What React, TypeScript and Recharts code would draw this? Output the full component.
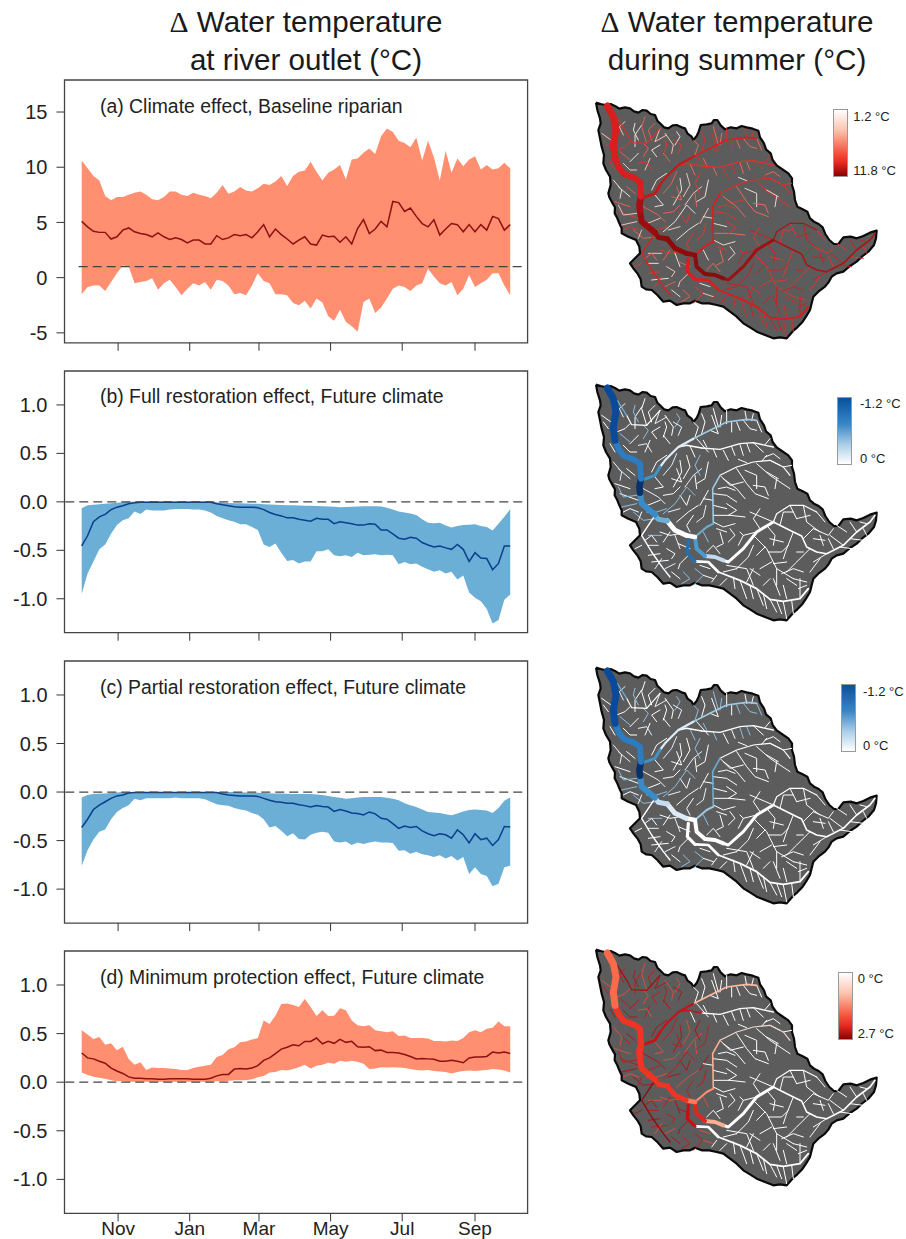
import {
  ComposedChart,
  ScatterChart,
  Scatter,
  Area,
  Line,
  XAxis,
  YAxis,
  ReferenceLine,
  ReferenceArea,
} from "recharts";

// day of water year, Oct 1 = 0
const days = [
  0, 5, 10, 15, 20, 25, 30, 35, 40, 45, 50, 55, 60, 65, 70, 75, 80, 85, 90, 95, 100, 105, 110, 115, 120, 125, 130,
  135, 140, 145, 150, 155, 160, 165, 170, 175, 180, 185, 190, 195, 200, 205, 210, 215, 220, 225, 230, 235, 240, 245,
  250, 255, 260, 265, 270, 275, 280, 285, 290, 295, 300, 305, 310, 315, 320, 325, 330, 335, 340, 345, 350, 355, 360,
  365,
];
const monthTicks = [31, 92, 151, 212, 273, 335];
const monthLabels = ["Nov", "Jan", "Mar", "May", "Jul", "Sep"];

const climateHi = [
  10.6, 9.9, 9.2, 8.8, 7.4, 7.0, 7.3, 7.3, 7.5, 7.7,
  7.8, 7.5, 7.1, 7.0, 7.3, 7.8, 7.8, 7.5, 7.4, 7.7,
  7.5, 7.4, 7.2, 7.7, 8.4, 7.6, 7.8, 8.2, 7.9, 7.8,
  8.1, 8.5, 8.4, 8.7, 9.2, 8.3, 9.2, 9.6, 9.7, 10.5,
  9.6, 8.8, 9.5, 9.8, 10.2, 8.9, 10.7, 10.8, 11.3, 11.7,
  11.2, 12.8, 13.5, 13.2, 12.4, 12.2, 11.8, 12.7, 10.6, 12.4,
  10.9, 8.8, 11.5, 9.5, 10.8, 10.1, 10.7, 11.0, 9.8, 10.2,
  9.8, 9.9, 10.4, 9.9,
];
const climateLo = [
  -1.5, -0.85, -0.7, -0.7, -1.2, -0.4, 0.4, 1.1, 1.0, -0.5,
  -0.4, -0.3, -0.05, -1.1, -0.5, -0.2, -0.85, -1.6, -1.0, -0.5,
  -0.7, -0.4, -1.1, -0.2, -0.3, -0.7, -1.5, -1.4, -1.6, -0.7,
  0.4, -0.3, -0.5, -1.5, -1.5, -1.6, -2.3, -2.5, -2.1, -2.8,
  -1.9, -2.25, -3.5, -3.9, -2.9, -4.0, -4.4, -4.9, -2.2, -1.9,
  -3.2, -2.7, -1.9, -1.0, -0.7, -0.85, -1.2, -0.7, -0.5, 0.8,
  0.1, -0.5, -0.7, -0.4, -1.6, -1.0, 0.25, -0.85, -0.5, -0.2,
  0.4, 0.4, -0.7, -1.6,
];
const climateMean = [
  5.1, 4.6, 4.2, 4.1, 4.1, 3.5, 3.7, 4.3, 4.5, 4.15,
  4.0, 3.9, 3.7, 4.05, 3.7, 3.45, 3.6, 3.45, 3.15, 3.4,
  3.4, 3.05, 3.05, 3.8, 3.45, 3.6, 3.9, 3.8, 3.9, 3.6,
  4.15, 4.8, 3.7, 4.4, 3.9, 3.5, 3.05, 3.4, 3.7, 3.05,
  2.95, 3.85, 3.7, 3.75, 3.2, 3.7, 3.05, 4.45, 5.25, 4.0,
  4.4, 5.1, 4.6, 6.9, 6.8, 6.0, 6.3, 5.55, 4.9, 4.6,
  5.25, 3.85, 4.4, 4.9, 4.8, 4.15, 4.8, 4.15, 4.8, 4.3,
  5.55, 5.35, 4.3, 4.8,
];

const fullHi = [
  -0.065, -0.035, -0.03, -0.025, -0.02, -0.015, -0.01, -0.005, 0, 0,
  0, 0, 0, 0, 0, 0, 0, 0, 0, 0,
  0, 0, -0.005, -0.005, -0.01, -0.012, -0.015, -0.015, -0.018, -0.02,
  -0.02, -0.025, -0.028, -0.03, -0.032, -0.035, -0.035, -0.038, -0.04, -0.04,
  -0.042, -0.045, -0.047, -0.05, -0.055, -0.052, -0.05, -0.047, -0.045, -0.045,
  -0.045, -0.048, -0.06, -0.08, -0.1, -0.11, -0.12, -0.135, -0.18, -0.215,
  -0.22, -0.215, -0.245, -0.265, -0.25, -0.24, -0.235, -0.23, -0.25, -0.26,
  -0.295, -0.225, -0.155, -0.075,
];
const fullLo = [
  -0.95, -0.74, -0.615, -0.49, -0.44, -0.33, -0.24, -0.19, -0.17, -0.1,
  -0.125, -0.08, -0.09, -0.09, -0.09, -0.08, -0.075, -0.075, -0.075, -0.08,
  -0.08, -0.09, -0.11, -0.145, -0.17, -0.19, -0.205, -0.23, -0.23, -0.26,
  -0.29, -0.44, -0.465, -0.43, -0.525, -0.61, -0.6, -0.635, -0.615, -0.615,
  -0.51, -0.51, -0.49, -0.55, -0.56, -0.55, -0.57, -0.525, -0.55, -0.545,
  -0.54, -0.55, -0.545, -0.55, -0.645, -0.62, -0.645, -0.635, -0.67, -0.695,
  -0.72, -0.705, -0.74, -0.72, -0.8, -0.76, -0.935, -0.99, -1.025, -1.105,
  -1.255, -1.22, -1.01, -0.955,
];
const fullMean = [
  -0.455, -0.35, -0.205, -0.155, -0.13, -0.08, -0.055, -0.04, -0.02, -0.01,
  -0.005, -0.005, -0.005, -0.005, -0.005, -0.005, -0.005, -0.005, -0.005, -0.005,
  -0.005, -0.005, -0.005, -0.02, -0.03, -0.04, -0.05, -0.055, -0.055, -0.055,
  -0.06, -0.08, -0.11, -0.13, -0.145, -0.165, -0.165, -0.18, -0.19, -0.2,
  -0.17, -0.18, -0.18, -0.225, -0.205, -0.215, -0.225, -0.24, -0.24, -0.225,
  -0.23, -0.29, -0.29, -0.33, -0.375, -0.385, -0.365, -0.375, -0.42, -0.445,
  -0.465, -0.455, -0.475, -0.49, -0.44, -0.49, -0.615, -0.525, -0.58, -0.585,
  -0.7, -0.635, -0.455, -0.455,
];

const partialHi = [
  -0.055, -0.03, -0.02, -0.018, -0.015, -0.01, -0.005, 0, 0, 0,
  0, 0, 0, 0, 0, 0, 0, 0, 0, 0,
  0, 0, 0, 0, 0, 0, 0, -0.003, -0.005, -0.006,
  -0.008, -0.01, -0.012, -0.015, -0.016, -0.018, -0.02, -0.02, -0.02, -0.02,
  -0.025, -0.03, -0.04, -0.05, -0.06, -0.07, -0.065, -0.055, -0.05, -0.05,
  -0.05, -0.05, -0.06, -0.07, -0.085, -0.115, -0.135, -0.155, -0.18, -0.205,
  -0.21, -0.215, -0.23, -0.24, -0.22, -0.2, -0.185, -0.18, -0.185, -0.19,
  -0.215, -0.165, -0.09, -0.055,
];
const partialLo = [
  -0.76, -0.6, -0.49, -0.41, -0.385, -0.28, -0.205, -0.165, -0.135, -0.07,
  -0.085, -0.065, -0.065, -0.065, -0.065, -0.065, -0.055, -0.065, -0.065, -0.065,
  -0.065, -0.075, -0.1, -0.125, -0.135, -0.14, -0.165, -0.18, -0.19, -0.215,
  -0.235, -0.28, -0.365, -0.35, -0.4, -0.455, -0.425, -0.485, -0.49, -0.44,
  -0.42, -0.41, -0.42, -0.51, -0.52, -0.51, -0.545, -0.52, -0.535, -0.52,
  -0.51, -0.52, -0.52, -0.525, -0.605, -0.6, -0.635, -0.615, -0.64, -0.65,
  -0.67, -0.65, -0.685, -0.66, -0.705, -0.67, -0.845, -0.775, -0.845, -0.865,
  -0.97, -0.945, -0.775, -0.76,
];
const partialMean = [
  -0.365, -0.28, -0.18, -0.135, -0.1, -0.065, -0.04, -0.03, -0.01, -0.005,
  -0.005, -0.005, -0.005, -0.005, -0.005, -0.005, -0.005, -0.005, -0.005, -0.005,
  -0.005, -0.005, -0.005, -0.005, -0.02, -0.03, -0.035, -0.04, -0.04, -0.04,
  -0.045, -0.065, -0.085, -0.1, -0.105, -0.115, -0.115, -0.13, -0.14, -0.155,
  -0.14, -0.15, -0.155, -0.2, -0.18, -0.195, -0.215, -0.22, -0.235, -0.205,
  -0.225, -0.27, -0.28, -0.325, -0.375, -0.35, -0.365, -0.355, -0.4, -0.43,
  -0.45, -0.43, -0.44, -0.475, -0.39, -0.44, -0.525, -0.43, -0.49, -0.475,
  -0.55, -0.49, -0.355, -0.36,
];

const protectHi = [
  0.535, 0.49, 0.445, 0.465, 0.385, 0.4, 0.33, 0.365, 0.24, 0.18,
  0.205, 0.125, 0.15, 0.145, 0.145, 0.14, 0.135, 0.125, 0.125, 0.145,
  0.16, 0.17, 0.18, 0.26, 0.28, 0.34, 0.36, 0.41, 0.42, 0.44,
  0.455, 0.635, 0.6, 0.685, 0.805, 0.81, 0.795, 0.775, 0.855, 0.775,
  0.68, 0.74, 0.68, 0.685, 0.76, 0.74, 0.635, 0.585, 0.575, 0.585,
  0.535, 0.525, 0.515, 0.525, 0.475, 0.48, 0.455, 0.455, 0.455, 0.45,
  0.425, 0.425, 0.42, 0.43, 0.425, 0.455, 0.515, 0.535, 0.515, 0.55,
  0.56, 0.625, 0.575, 0.575,
];
const protectLo = [
  0.1, 0.075, 0.055, 0.045, 0.035, 0.02, 0.01, 0.01, 0.005, 0.005,
  0.005, 0.005, 0.005, 0.005, 0.005, 0.005, 0.005, 0.005, 0.005, 0.005,
  0.005, 0.005, 0.005, 0.01, 0.01, 0.015, 0.02, 0.02, 0.02, 0.03,
  0.05, 0.065, 0.1, 0.105, 0.125, 0.12, 0.135, 0.155, 0.18, 0.14,
  0.17, 0.18, 0.2, 0.19, 0.22, 0.21, 0.22, 0.21, 0.19, 0.135,
  0.14, 0.155, 0.15, 0.155, 0.15, 0.145, 0.135, 0.125, 0.12, 0.125,
  0.115, 0.11, 0.105, 0.09, 0.105, 0.115, 0.12, 0.115, 0.12, 0.125,
  0.135, 0.13, 0.12, 0.1,
];
const protectMean = [
  0.3, 0.25, 0.24, 0.215, 0.195, 0.145, 0.115, 0.09, 0.055, 0.04,
  0.04, 0.035, 0.035, 0.03, 0.03, 0.035, 0.035, 0.035, 0.035, 0.03,
  0.03, 0.03, 0.04, 0.065, 0.08, 0.08, 0.135, 0.14, 0.135, 0.145,
  0.17, 0.225, 0.25, 0.295, 0.34, 0.36, 0.385, 0.375, 0.42, 0.42,
  0.455, 0.395, 0.42, 0.4, 0.44, 0.41, 0.42, 0.365, 0.36, 0.365,
  0.325, 0.33, 0.305, 0.305, 0.3, 0.285, 0.265, 0.24, 0.245, 0.24,
  0.235, 0.215, 0.215, 0.225, 0.215, 0.2, 0.25, 0.26, 0.26, 0.265,
  0.31, 0.3, 0.31, 0.295,
];

type Pt = [number, number];

// basin outline and river network, in map grid units
const basinOutline: Pt[] = [
  [48, 38], [62, 42], [75, 45], [92, 42], [105, 48], [118, 56], [135, 52], [150, 55], [162, 64], [175, 68], [188, 60],
  [200, 62], [212, 72], [225, 75], [232, 92], [240, 100], [252, 112], [265, 115], [278, 106], [290, 105], [305, 112],
  [315, 115], [322, 130], [335, 140], [340, 150], [350, 138], [356, 125], [362, 105], [380, 103], [395, 100], [402, 90],
  [412, 90], [422, 106], [435, 118], [452, 112], [470, 115], [485, 108], [500, 112], [518, 116], [535, 122], [540, 142],
  [552, 160], [558, 178], [572, 190], [578, 210], [590, 226], [610, 240], [625, 250], [636, 265], [636, 285], [642, 305],
  [645, 330], [652, 350], [668, 358], [682, 365], [690, 385], [702, 395], [716, 402], [728, 412], [736, 432], [748, 450],
  [762, 462], [775, 462], [790, 442], [812, 440], [830, 445], [850, 438], [870, 428], [890, 422], [888, 445], [882, 465],
  [865, 485], [848, 498], [830, 515], [810, 528], [790, 545], [770, 550], [755, 560], [745, 578], [735, 590], [715, 605],
  [700, 620], [695, 640], [690, 660], [678, 680], [668, 695], [652, 712], [640, 722], [620, 745], [600, 742], [580, 745],
  [555, 735], [530, 725], [510, 712], [490, 700], [470, 680], [450, 665], [430, 650], [410, 645], [388, 640], [365, 640],
  [345, 632], [330, 640], [310, 640], [290, 645], [270, 632], [250, 635], [232, 615], [215, 600], [198, 598], [185, 590],
  [182, 568], [172, 550], [160, 535], [150, 520], [165, 505], [180, 490], [178, 470], [168, 450], [145, 440], [125, 430],
  [125, 415], [118, 400], [112, 385], [104, 370], [105, 352], [98, 340], [88, 322], [85, 310], [92, 285], [90, 260],
  [78, 240], [70, 220], [72, 195], [65, 170], [60, 145], [55, 120], [62, 100], [60, 85], [52, 60], [48, 38],
];

const mainStem: Record<string, Pt[]> = {
  s1a: [[82, 48], [100, 80], [108, 120], [100, 165], [105, 205]],
  s1b: [[105, 205], [118, 235], [132, 252], [160, 262], [180, 275], [183, 320]],
  s2a: [[183, 320], [178, 345], [180, 362]],
  s2b: [[180, 362], [185, 395], [225, 428]],
  s3a: [[225, 428], [235, 442], [262, 447]],
  s3b: [[262, 447], [285, 475], [318, 490]],
  s3c: [[318, 490], [345, 495]],
  s4a: [[345, 495], [350, 530], [375, 552]],
  s4b: [[375, 552], [405, 555], [430, 565]],
  s5: [[430, 565], [445, 570], [490, 530], [530, 480], [580, 450]],
  s6: [[580, 450], [610, 465], [640, 480], [665, 492], [680, 525], [710, 540], [740, 545], [790, 520], [830, 480], [870, 450], [885, 430]],
  s7: [[580, 450], [590, 425], [630, 400], [670, 400], [710, 420]],
  s8a: [[325, 505], [322, 545], [345, 568]],
  s8b: [[345, 568], [385, 570], [415, 600]],
  s8c: [[415, 600], [480, 625], [530, 650], [570, 682], [610, 688], [660, 680], [685, 650]],
  s9a: [[345, 495], [380, 465], [400, 455]],
  s9b: [[400, 455], [398, 350], [420, 310]],
  s9c: [[420, 310], [470, 285], [520, 270], [570, 265], [610, 285], [630, 310]],
  s10a: [[183, 325], [225, 310], [240, 285]],
  s10b: [[240, 285], [255, 265], [295, 225], [340, 200]],
  s10c: [[340, 200], [390, 175], [440, 150], [500, 142], [530, 145]],
  s11a: [[295, 225], [320, 220], [365, 228]],
  s11b: [[365, 228], [420, 232], [480, 215], [520, 212], [580, 225]],
  s12: [[225, 430], [205, 460], [185, 490], [215, 540], [250, 590], [270, 615]],
  s13a: [[112, 85], [140, 130]],
  s13b: [[140, 130], [155, 158], [200, 160], [240, 115]],
};

const westTribs: Pt[][] = [
  [[165, 170], [165, 135], [185, 105]], [[200, 160], [185, 110], [195, 80]], [[240, 115], [225, 155], [260, 135]],
  [[250, 195], [260, 165], [255, 150]], [[285, 165], [300, 140], [290, 125]], [[270, 215], [250, 190]],
  [[210, 205], [195, 240]], [[215, 240], [200, 215], [175, 220]], [[150, 215], [175, 190]], [[120, 185], [150, 210]],
  [[65, 130], [100, 155]], [[90, 215], [105, 240]], [[115, 290], [150, 320]], [[105, 335], [150, 350]],
  [[125, 405], [170, 395]], [[120, 365], [175, 385]], [[225, 315], [250, 345], [225, 350]],
  [[190, 350], [235, 375], [255, 395]], [[190, 405], [240, 385]], [[200, 420], [230, 420], [260, 410]],
  [[280, 345], [305, 300], [300, 265]], [[275, 320], [305, 330], [290, 290]], [[315, 345], [340, 310], [365, 290]],
  [[300, 370], [320, 400], [330, 370]], [[250, 425], [285, 395], [320, 345], [345, 370]], [[350, 350], [345, 310]],
  [[360, 400], [385, 355]], [[350, 450], [370, 435], [378, 400]], [[290, 450], [325, 420], [355, 400]],
  [[230, 440], [190, 445], [160, 420]], [[185, 420], [175, 445]], [[300, 485], [270, 490], [240, 480]],
  [[285, 490], [300, 530]], [[270, 480], [250, 510]], [[205, 490], [245, 490]], [[205, 550], [240, 545]],
  [[215, 570], [265, 565]], [[255, 590], [285, 575]], [[325, 550], [300, 575], [295, 590]],
  [[345, 590], [370, 610], [340, 640]], [[390, 590], [360, 580]], [[330, 530], [295, 515]],
  [[130, 135], [118, 110], [135, 95]], [[150, 155], [135, 170], [110, 180]], [[175, 150], [160, 120], [165, 100]],
  [[215, 150], [205, 120], [225, 100]], [[255, 130], [280, 165], [275, 190]], [[280, 150], [305, 165], [295, 190]],
  [[230, 200], [215, 180], [240, 165]], [[190, 200], [205, 175], [190, 160]], [[130, 220], [150, 240], [170, 240]],
  [[85, 170], [70, 150]], [[100, 270], [125, 300], [120, 325]], [[140, 290], [165, 310]],
  [[115, 345], [130, 375], [170, 370]], [[130, 420], [150, 410], [175, 420]], [[260, 250], [230, 270], [215, 300]],
  [[290, 245], [275, 280], [250, 310]], [[320, 250], [330, 285], [310, 320]], [[360, 250], [345, 280], [360, 310]],
  [[385, 270], [375, 320], [350, 335]], [[250, 370], [280, 365], [300, 345]], [[300, 410], [265, 420]],
  [[340, 430], [320, 460], [330, 480]], [[370, 480], [385, 510]], [[230, 510], [215, 490], [195, 505]],
  [[260, 530], [285, 545], [275, 560]], [[245, 560], [225, 590]], [[275, 600], [300, 620]],
  [[310, 600], [330, 620], [305, 635]], [[370, 610], [400, 620]], [[185, 520], [165, 530]], [[205, 520], [235, 520]],
];
const northTribs: Pt[][] = [
  [[390, 175], [415, 185], [395, 130]], [[415, 165], [400, 110]], [[440, 155], [440, 115]], [[470, 150], [480, 175]],
  [[500, 145], [495, 118]], [[530, 145], [545, 180]], [[350, 200], [385, 240]], [[380, 225], [370, 205]],
  [[430, 235], [445, 265]], [[480, 218], [490, 250]], [[520, 212], [550, 240]],
  [[345, 195], [355, 165], [340, 150]], [[365, 185], [375, 150], [365, 125]], [[420, 165], [425, 130]],
  [[455, 150], [455, 180]], [[490, 145], [510, 170], [530, 175]], [[515, 145], [520, 125]], [[400, 232], [410, 255]],
  [[455, 225], [465, 250]], [[500, 214], [510, 240]], [[555, 218], [570, 200]], [[330, 222], [345, 255]],
];
const midTribs: Pt[][] = [
  [[400, 365], [440, 370], [470, 390]], [[400, 430], [450, 430], [495, 435]], [[400, 400], [440, 410]],
  [[420, 310], [450, 340], [490, 330]], [[470, 290], [500, 335], [525, 365], [565, 380]],
  [[495, 295], [530, 310], [530, 350]], [[530, 275], [570, 310], [600, 330], [630, 350]], [[570, 265], [600, 280]],
  [[560, 300], [595, 320]], [[410, 470], [440, 480]], [[380, 540], [400, 520], [420, 545]],
  [[400, 385], [370, 380]], [[415, 350], [440, 345], [465, 355]], [[430, 320], [470, 350], [495, 380]],
  [[400, 450], [430, 465], [465, 455]], [[445, 430], [470, 415], [440, 395]], [[520, 340], [555, 345], [565, 370]],
  [[590, 320], [585, 350]], [[610, 285], [635, 280]], [[600, 260], [580, 245], [555, 255]], [[500, 272], [475, 262]],
  [[545, 268], [560, 250]], [[420, 480], [430, 515], [410, 525]], [[445, 510], [465, 490], [450, 470]],
];
const eastTribs: Pt[][] = [
  [[530, 480], [490, 490], [475, 520]], [[490, 490], [480, 480]], [[580, 450], [510, 420]],
  [[520, 490], [560, 530], [590, 590], [640, 620]], [[555, 525], [530, 550]], [[575, 570], [540, 590]],
  [[590, 590], [590, 640]], [[640, 480], [620, 530], [610, 560]], [[670, 500], [700, 470]],
  [[690, 530], [650, 570], [620, 600]], [[740, 545], [700, 570]], [[630, 400], [650, 440]],
  [[670, 400], [680, 450], [720, 480]], [[710, 420], [735, 450]], [[750, 490], [790, 520]], [[800, 480], [770, 460]],
  [[830, 480], [810, 450]], [[850, 470], [860, 490]], [[730, 520], [720, 490]],
  [[540, 470], [520, 440], [540, 410]], [[560, 460], [585, 490], [580, 520]], [[600, 460], [610, 420], [640, 420]],
  [[650, 440], [690, 430]], [[700, 470], [745, 490], [760, 470]], [[700, 500], [735, 505]], [[760, 530], [745, 500]],
  [[780, 525], [815, 530]], [[810, 500], [850, 505]], [[860, 455], [840, 450]], [[570, 500], [610, 510]],
  [[565, 540], [605, 540], [625, 520]], [[580, 575], [620, 570]], [[605, 605], [640, 590], [670, 600]],
  [[640, 620], [680, 630]], [[670, 540], [650, 540]], [[720, 560], [690, 600]], [[520, 520], [505, 555], [470, 590]],
  [[540, 610], [510, 590]],
];
const southTribs: Pt[][] = [
  [[480, 625], [500, 680]], [[440, 620], [420, 640]], [[530, 650], [550, 700]], [[570, 682], [590, 720]],
  [[610, 690], [620, 740]], [[660, 620], [660, 680]], [[610, 640], [620, 680]], [[550, 640], [570, 620]],
  [[500, 630], [520, 590]], [[440, 580], [500, 590], [520, 640]],
  [[460, 615], [465, 650]], [[510, 640], [520, 680]], [[550, 665], [560, 710]], [[590, 685], [605, 725]],
  [[635, 685], [640, 725]], [[580, 620], [600, 670]], [[620, 620], [650, 640]], [[655, 650], [680, 640]],
  [[410, 610], [395, 630]], [[430, 600], [470, 590]],
];

const stemWidths: Record<string, number> = {
  s1a: 7, s1b: 6, s2a: 6.5, s2b: 6, s3a: 5, s3b: 5, s3c: 4.5, s4a: 4, s4b: 4, s5: 3, s6: 1.6, s7: 1.2,
  s8a: 3.2, s8b: 2.6, s8c: 1.8, s9a: 2, s9b: 1.6, s9c: 1.2, s10a: 3, s10b: 2.2, s10c: 1.6, s11a: 1.6, s11b: 1.3,
  s12: 1.4, s13a: 1.2, s13b: 1.2,
};

const W = "#ffffff";
const climateStem: Record<string, string> = {
  s1a: "#d81e1e", s1b: "#d81e1e", s2a: "#a50f15", s2b: "#9a0e12", s3a: "#8f0b0b", s3b: "#8f0b0b", s3c: "#8f0b0b",
  s4a: "#8a0d0d", s4b: "#8a0d0d", s5: "#a01010", s6: "#a81616", s7: "#a81616", s8a: "#e01b1b", s8b: "#e01b1b",
  s8c: "#d81c1c", s9a: "#d42020", s9b: "#d42020", s9c: "#d83028", s10a: "#c81818", s10b: "#c81818", s10c: "#d42020",
  s11a: "#e03030", s11b: "#e03030", s12: "#d82020", s13a: "#d83030", s13b: "#d83030",
};
const fullStem: Record<string, string> = {
  s1a: "#0a4a9a", s1b: "#2b7cc0", s2a: "#08306b", s2b: "#3a8cc8", s3a: "#6baed6", s3b: W, s3c: W, s4a: "#4a9bd0",
  s4b: "#c6dbef", s5: W, s6: W, s7: W, s8a: "#2171b5", s8b: W, s8c: W, s9a: "#6baed6", s9b: "#9ecae1", s9c: W,
  s10a: "#4292c6", s10b: "#deebf7", s10c: "#9ecae1", s11a: W, s11b: W, s12: W, s13a: "#6baed6", s13b: W,
};
const partialStem: Record<string, string> = {
  ...fullStem,
  s1b: "#2b7cc0", s3a: "#c6dbef", s3b: "#deebf7", s3c: W, s4a: W, s4b: W, s8a: W, s9a: "#9ecae1", s9b: "#6baed6",
};
const protectStem: Record<string, string> = {
  s1a: "#fb6a4a", s1b: "#ee3524", s2a: "#ee3524", s2b: "#ee3524", s3a: "#ee3524", s3b: "#ee3524", s3c: "#fb7a5a",
  s4a: "#e0261e", s4b: "#fcae91", s5: W, s6: W, s7: W, s8a: "#c81010", s8b: W, s8c: W, s9a: "#fc9272", s9b: "#fcae91",
  s9c: "#f0d8d0", s10a: "#c0161a", s10b: "#c0161a", s10c: "#fcbba1", s11a: "#c0161a", s11b: W, s12: "#8b0f0f",
  s13a: "#a01010", s13b: "#a01010",
};

const toTable = (lo: number[], hi: number[], mean: number[]) =>
  days.map((day, i) => ({ day, band: [lo[i], hi[i]], mean: mean[i] }));
const toPoints = (path: Pt[]) => path.map(([x, y]) => ({ x, y }));

const font = "'Liberation Sans', Arial, sans-serif";
const NoMark = () => <g />;

function TimePanel(props: {
  top: number;
  bottom: number;
  title: string;
  titleY: number;
  lo: number[];
  hi: number[];
  mean: number[];
  yDomain: number[];
  yTicks: number[];
  decimals: number;
  refY: number;
  refStart: number;
  fill: string;
  lineColor: string;
  showMonths?: boolean;
}) {
  const { top, bottom, yDomain } = props;
  const xDomain = [-14.65, 379.8];
  const chartTop = top - 5;
  return (
    <>
      <div style={{ position: "absolute", left: 0, top: chartTop }}>
        <ComposedChart
          width={560}
          height={bottom - top + 30.6}
          data={toTable(props.lo, props.hi, props.mean)}
          margin={{ top: 5, right: 32.4, left: 0, bottom: 0 }}
        >
          <XAxis
            dataKey="day"
            type="number"
            domain={xDomain}
            ticks={monthTicks}
            interval={0}
            height={25.6}
            axisLine={false}
            tickSize={8}
            tickMargin={0}
            tickLine={{ stroke: "#333", strokeWidth: 1 }}
            tick={{ fontSize: 19, fill: "#222", fontFamily: font }}
            tickFormatter={(v: number) => (props.showMonths ? monthLabels[monthTicks.indexOf(v)] : "")}
          />
          <YAxis
            type="number"
            width={64.5}
            domain={yDomain}
            ticks={props.yTicks}
            interval={0}
            axisLine={false}
            tickSize={8}
            tickMargin={9}
            tickLine={{ stroke: "#333", strokeWidth: 1 }}
            tick={{ fontSize: 20, fill: "#222", fontFamily: font }}
            tickFormatter={(v: number) => v.toFixed(props.decimals)}
          />
          <Area
            dataKey="band"
            type="linear"
            fill={props.fill}
            fillOpacity={1}
            stroke="none"
            dot={false}
            activeDot={false}
            isAnimationActive={false}
          />
          <Line
            dataKey="mean"
            type="linear"
            stroke={props.lineColor}
            strokeWidth={1.5}
            dot={false}
            activeDot={false}
            isAnimationActive={false}
          />
          <ReferenceLine
            segment={[
              { x: props.refStart, y: props.refY },
              { x: 376, y: props.refY },
            ]}
            stroke="#444"
            strokeWidth={1.3}
            strokeDasharray="9 5"
          />
          <ReferenceArea
            x1={xDomain[0]}
            x2={xDomain[1]}
            y1={yDomain[0]}
            y2={yDomain[1]}
            fill="none"
            stroke="#444"
            strokeWidth={1.3}
          />
        </ComposedChart>
      </div>
      <div
        style={{
          position: "absolute",
          left: 100,
          top: props.titleY - 16,
          fontFamily: font,
          fontSize: 19.4,
          lineHeight: "20px",
          color: "#222",
          whiteSpace: "nowrap",
        }}
      >
        {props.title}
      </div>
    </>
  );
}

function BasinMap(props: {
  top: number;
  stem: Record<string, string>;
  west: string[];
  north: string[];
  mid: string[];
  east: string[];
  south: string[];
}) {
  const tribs: [Pt[][], string[]][] = [
    [westTribs, props.west],
    [northTribs, props.north],
    [midTribs, props.mid],
    [eastTribs, props.east],
    [southTribs, props.south],
  ];
  return (
    <div style={{ position: "absolute", left: 580, top: props.top }}>
      <ScatterChart width={310} height={270} margin={{ top: 0, right: 0, bottom: 0, left: 0 }}>
        <XAxis dataKey="x" type="number" domain={[0, 930]} hide />
        <YAxis dataKey="y" type="number" domain={[0, 810]} reversed hide />
        <Scatter
          data={toPoints(basinOutline)}
          shape={NoMark}
          line={{ stroke: "#0a0a0a", strokeWidth: 2.2, fill: "#5c5c5c", strokeLinejoin: "round" }}
          isAnimationActive={false}
        />
        {tribs.flatMap(([paths, colors], g) =>
          paths.map((path, i) => (
            <Scatter
              key={`t${g}-${i}`}
              data={toPoints(path)}
              shape={NoMark}
              line={{ stroke: colors[i % colors.length], strokeWidth: 1, fill: "none", strokeLinecap: "round" }}
              isAnimationActive={false}
            />
          ))
        )}
        {Object.keys(mainStem).reverse().map((id) => (
          <Scatter
            key={id}
            data={toPoints(mainStem[id])}
            shape={NoMark}
            line={{
              stroke: props.stem[id],
              strokeWidth: stemWidths[id],
              fill: "none",
              strokeLinecap: "round",
              strokeLinejoin: "round",
            }}
            isAnimationActive={false}
          />
        ))}
      </ScatterChart>
    </div>
  );
}

function ColorKey(props: {
  left: number;
  top: number;
  height: number;
  colors: string;
  labelX: number;
  labelTop: string;
  labelBottom: string;
}) {
  const label = (text: string, y: number) => (
    <div
      style={{
        position: "absolute",
        left: props.labelX,
        top: y - 8,
        fontFamily: font,
        fontSize: 13,
        lineHeight: "16px",
        color: "#222",
        whiteSpace: "nowrap",
      }}
    >
      {text}
    </div>
  );
  return (
    <>
      <div
        style={{
          position: "absolute",
          left: props.left,
          top: props.top,
          width: 13,
          height: props.height,
          border: "1px solid #999",
          background: `linear-gradient(to bottom, ${props.colors})`,
        }}
      />
      {label(props.labelTop, props.top + 7.5)}
      {label(props.labelBottom, props.top + props.height - 4)}
    </>
  );
}

const Heading = ({ center, second }: { center: number; second: string }) => (
  <div
    style={{
      position: "absolute",
      left: center - 200,
      width: 400,
      top: 3,
      textAlign: "center",
      fontFamily: font,
      fontSize: 29.6,
      lineHeight: "37px",
      color: "#1a1a1a",
    }}
  >
    <span style={{ fontFamily: "'Liberation Serif', serif" }}>Δ</span> Water temperature
    <br />
    {second}
  </div>
);

const redKey = "#ffffff 0%, #fcc5b0 30%, #f5533a 65%, #e52a20 80%, #8b0000 100%";
const blueKey = "#08519c 0%, #3a87c6 40%, #a9cde8 70%, #ffffff 100%";
const lightRamp = ["#ffffff", "#ffffff", "#e8f0f8", "#ffffff", "#8fbfe0"];

export default function App() {
  return (
    <div style={{ position: "absolute", left: 0, top: 0, width: 906, height: 1239, background: "#fff", overflow: "hidden" }}>
      <Heading center={306} second="at river outlet (°C)" />
      <Heading center={737} second="during summer (°C)" />

      <TimePanel
        top={80.3}
        bottom={343.1}
        title="(a) Climate effect, Baseline riparian"
        titleY={112}
        lo={climateLo}
        hi={climateHi}
        mean={climateMean}
        yDomain={[-5.9, 17.9]}
        yTicks={[-5, 0, 5, 10, 15]}
        decimals={0}
        refY={1}
        refStart={-2.6}
        fill="#ff8f70"
        lineColor="#8b1212"
      />
      <TimePanel
        top={370.9}
        bottom={632.6}
        title="(b) Full restoration effect, Future climate"
        titleY={402}
        lo={fullLo}
        hi={fullHi}
        mean={fullMean}
        yDomain={[-1.35, 1.35]}
        yTicks={[-1, -0.5, 0, 0.5, 1]}
        decimals={1}
        refY={0}
        refStart={-14}
        fill="#6baed6"
        lineColor="#0b3f8f"
      />
      <TimePanel
        top={661}
        bottom={923.1}
        title="(c) Partial restoration effect, Future climate"
        titleY={692.8}
        lo={partialLo}
        hi={partialHi}
        mean={partialMean}
        yDomain={[-1.35, 1.35]}
        yTicks={[-1, -0.5, 0, 0.5, 1]}
        decimals={1}
        refY={0}
        refStart={-14}
        fill="#6baed6"
        lineColor="#0b3f8f"
      />
      <TimePanel
        top={951}
        bottom={1213.4}
        title="(d) Minimum protection effect, Future climate"
        titleY={983}
        lo={protectLo}
        hi={protectHi}
        mean={protectMean}
        yDomain={[-1.35, 1.35]}
        yTicks={[-1, -0.5, 0, 0.5, 1]}
        decimals={1}
        refY={0}
        refStart={-14}
        fill="#ff8f70"
        lineColor="#8b1212"
        showMonths
      />

      <BasinMap
        top={90}
        stem={climateStem}
        west={["#ece0da", "#e2624f", "#efc3b5", "#d93a30"]}
        north={["#d83228", "#e86a58"]}
        mid={["#d8382e", "#e86a58", "#ecd8d0"]}
        east={["#c62222", "#d83a30"]}
        south={["#d03028", "#c62222"]}
      />
      <BasinMap
        top={372.3}
        stem={fullStem}
        west={lightRamp}
        north={[W]}
        mid={[W]}
        east={[W]}
        south={[W]}
      />
      <BasinMap
        top={655}
        stem={partialStem}
        west={lightRamp}
        north={[W, "#8fbfe0"]}
        mid={[W]}
        east={[W]}
        south={[W]}
      />
      <BasinMap
        top={936.7}
        stem={protectStem}
        west={["#b5201e", "#d9503f", "#a81818"]}
        north={[W]}
        mid={[W]}
        east={[W]}
        south={[W]}
      />

      <ColorKey left={833.3} top={109.3} height={66} colors={redKey} labelX={853.3} labelTop="1.2 °C" labelBottom="11.8 °C" />
      <ColorKey left={836.7} top={396.7} height={66} colors={blueKey} labelX={860} labelTop="-1.2 °C" labelBottom="0 °C" />
      <ColorKey left={840.7} top={684.3} height={66} colors={blueKey} labelX={863} labelTop="-1.2 °C" labelBottom="0 °C" />
      <ColorKey left={837.7} top={971.7} height={66} colors={redKey} labelX={857.7} labelTop="0 °C" labelBottom="2.7 °C" />
    </div>
  );
}
